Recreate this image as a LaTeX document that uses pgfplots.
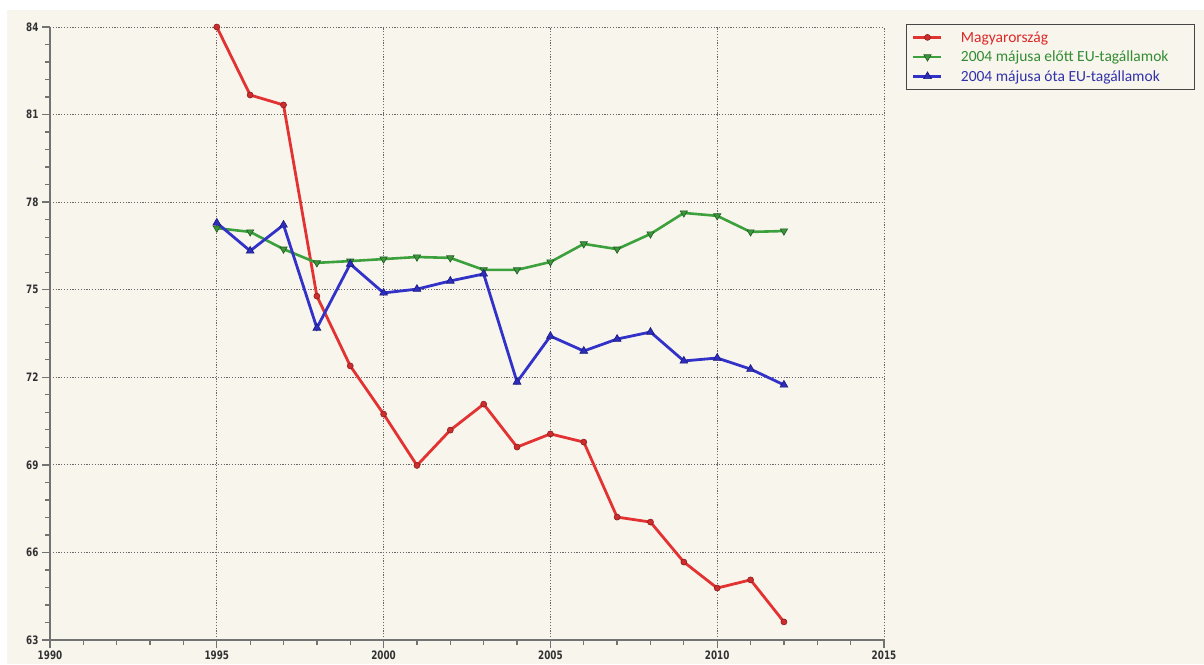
\documentclass[border=0pt]{standalone}
\usepackage{fontspec}
\setmainfont{Carlito}
\newfontfamily\tickfont{DejaVu Sans}
\usepackage{graphicx}
\usepackage{pgfplots}
\pgfplotsset{compat=1.18}
\definecolor{bg}{RGB}{248,245,237}
\definecolor{axisgray}{RGB}{115,115,115}
\definecolor{gridgray}{RGB}{105,105,105}
\definecolor{labelgray}{RGB}{50,50,50}
\definecolor{legendgray}{RGB}{70,70,70}
\definecolor{redline}{RGB}{226,50,50}
\definecolor{redfill}{RGB}{205,45,45}
\definecolor{reddraw}{RGB}{140,30,30}
\definecolor{redtext}{RGB}{220,40,40}
\definecolor{greenline}{RGB}{60,160,60}
\definecolor{greenfill}{RGB}{60,150,60}
\definecolor{greendraw}{RGB}{30,90,30}
\definecolor{greentext}{RGB}{50,140,50}
\definecolor{blueline}{RGB}{50,50,200}
\definecolor{bluefill}{RGB}{45,45,190}
\definecolor{bluedraw}{RGB}{25,25,120}
\definecolor{bluetext}{RGB}{50,50,170}
\begin{document}
\begin{tikzpicture}
\path[use as bounding box] (0pt,0pt) rectangle (1204pt,664pt);
\fill[white] (0pt,0pt) rectangle (1204pt,664pt);
\fill[bg] (7pt,0pt) rectangle (1204pt,654pt);
\coordinate (O) at (50pt,24pt);
\begin{axis}[
  at={(O)}, anchor=south west,
  scale only axis, width=834pt, height=613pt,
  xmin=1990, xmax=2015, ymin=63, ymax=84,
  axis x line=bottom, axis y line=left,
  axis line style={-, draw=axisgray, line width=1.6pt},
  xtick={1990,1995,...,2015}, ytick={63,66,...,84},
  minor x tick num=4, minor y tick num=4,
  tick align=outside, major tick length=8pt, minor tick length=5pt,
  tick style={axisgray, line width=1.3pt},
  grid=major,
  major grid style={gridgray, line width=0.9pt, dash pattern=on 1.2pt off 1.6pt},
  ticklabel style={font=\tickfont\bfseries\fontsize{11.6}{12}\selectfont, text=labelgray},
  /pgf/number format/assume math mode=true,
  xticklabel={\scalebox{0.76}[1]{\pgfmathprintnumber[1000 sep={}]{\tick}}},
  yticklabel={\scalebox{0.76}[1]{\pgfmathprintnumber{\tick}}},
  xticklabel style={yshift=1pt},
  legend cell align=left,
  legend style={at={(1.0260,1.0049)}, anchor=north west, draw=legendgray, line width=0.8pt,
    fill=bg, font=\fontsize{15.5}{18}\selectfont, inner xsep=6pt, inner ysep=4pt,
    row sep=1.5pt, column sep=18pt,
    nodes={inner sep=0pt, text height=14pt, text depth=4pt}},
  legend image code/.code={\draw[mark repeat=2,mark phase=2] plot coordinates {(0pt,0pt) (14pt,0pt) (28pt,0pt)};},
]
\addplot[redline, line width=2.8pt, mark=*, mark size=3pt, mark options={fill=redfill, draw=reddraw, line width=0.6pt}] coordinates {
(1995,84.0) (1996,81.67) (1997,81.33) (1998,74.78) (1999,72.39) (2000,70.74)
(2001,68.98) (2002,70.19) (2003,71.08) (2004,69.61) (2005,70.06) (2006,69.78)
(2007,67.21) (2008,67.04) (2009,65.67) (2010,64.78) (2011,65.06) (2012,63.62)};
\addlegendentry{\textcolor{redtext}{Magyarország}}
\addplot[greenline, line width=2.6pt, mark=triangle*, mark size=4.2pt, mark options={rotate=180, fill=greenfill, draw=greendraw, line width=0.6pt}] coordinates {
(1995,77.11) (1996,76.98) (1997,76.39) (1998,75.92) (1999,75.98) (2000,76.05)
(2001,76.12) (2002,76.09) (2003,75.68) (2004,75.68) (2005,75.95) (2006,76.57)
(2007,76.39) (2008,76.91) (2009,77.63) (2010,77.53) (2011,76.98) (2012,77.01)};
\addlegendentry{\textcolor{greentext}{2004 májusa előtt EU-tagállamok}\hspace*{20pt}}
\addplot[blueline, line width=2.8pt, mark=triangle*, mark size=4.5pt, mark options={fill=bluefill, draw=bluedraw, line width=0.6pt}] coordinates {
(1995,77.29) (1996,76.33) (1997,77.22) (1998,73.69) (1999,75.88) (2000,74.89)
(2001,75.02) (2002,75.30) (2003,75.54) (2004,71.84) (2005,73.41) (2006,72.90)
(2007,73.31) (2008,73.55) (2009,72.56) (2010,72.66) (2011,72.28) (2012,71.74)};
\addlegendentry{\textcolor{bluetext}{2004 májusa óta EU-tagállamok}}
\end{axis}
\end{tikzpicture}
\end{document}
